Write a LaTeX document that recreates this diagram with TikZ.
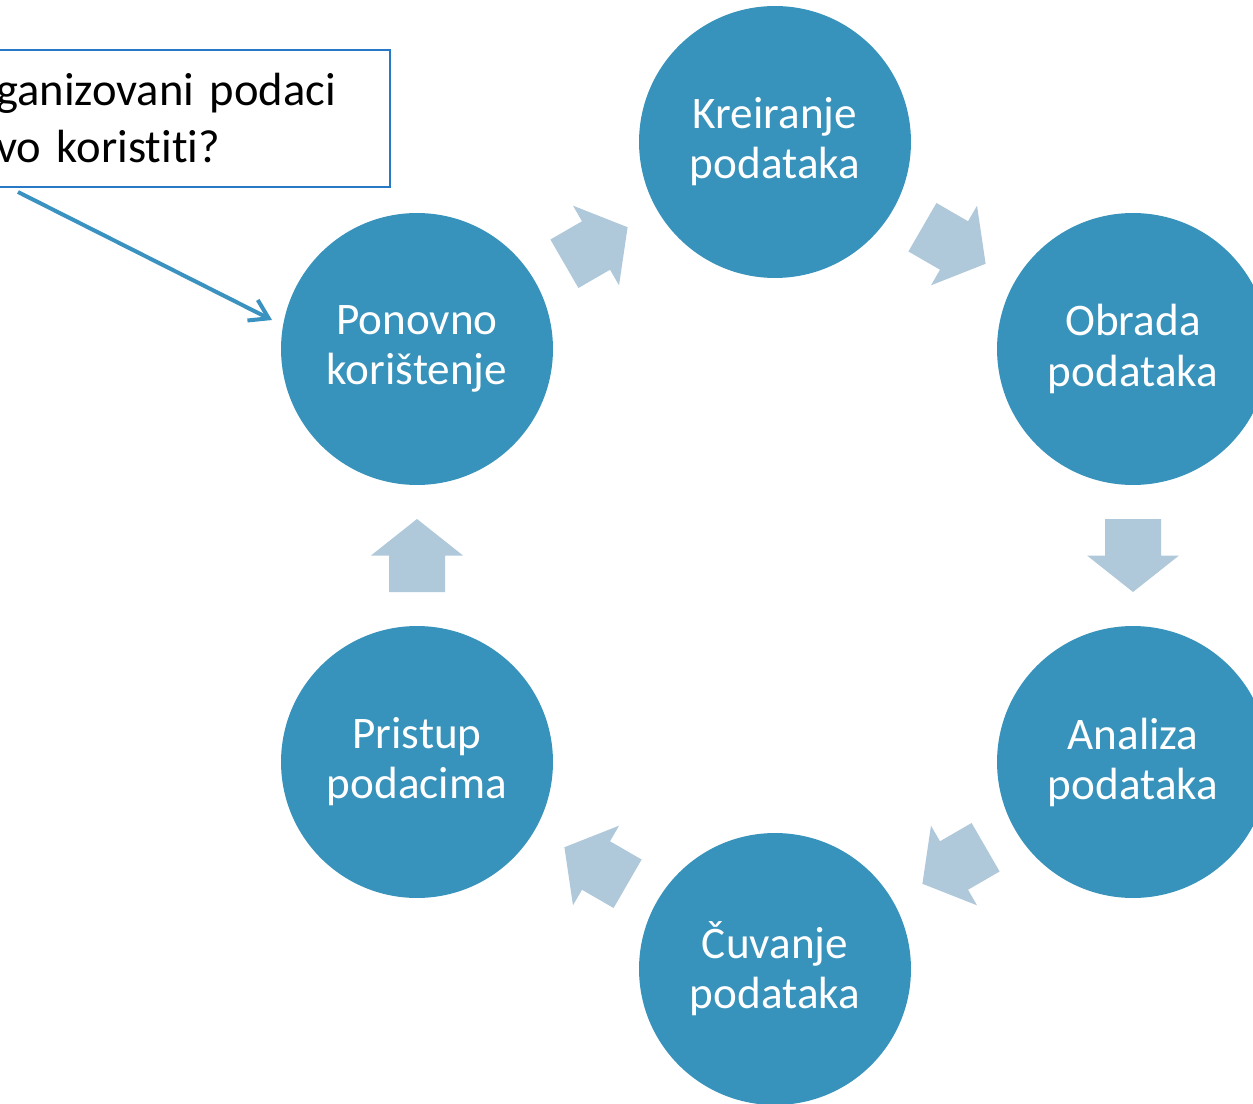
\documentclass[tikz,border=0pt]{standalone}
\usepackage{fontspec}
\setmainfont{Carlito}[RawFeature={-liga;-clig;-calt}]
\usepackage{tikz}
\usepackage{xcolor}
\usetikzlibrary{shapes.geometric, arrows.meta}
\definecolor{krugplava}{RGB}{55,147,187}
\definecolor{strelicasiva}{RGB}{175,200,218}
\definecolor{okvirplava}{RGB}{40,120,200}
\definecolor{linijaplava}{RGB}{58,146,192}
\tikzstyle{krug} = [circle, minimum size=5.44cm, inner sep=0pt, draw=none, fill=krugplava, text=white, align=center, font=\fontsize{25.7}{28.5}\selectfont]
\tikzstyle{strelica} = [midway, sloped, allow upside down]
\tikzstyle{pitanjebox} = [rectangle, draw=okvirplava, line width=0.9pt, fill=white, minimum width=8.2cm, minimum height=2.74cm, inner xsep=0.32cm, text width=7.56cm, align=left, font=\fontsize{26.5}{32.3}\selectfont]
\tikzstyle{pokazivac} = [draw=linijaplava, line width=0.08cm, -{Straight Barb[length=0.36cm, width=0.46cm]}]
\tikzset{blokstrelica/.pic={\fill[strelicasiva] (-36.5,-28) -- (0,-28) -- (0,-46) -- (36.5,0) -- (0,46) -- (0,28) -- (-36.5,28) -- cycle;}}

\begin{document}
\begin{tikzpicture}[x=0.02cm, y=-0.02cm]
        \useasboundingbox (0,0) rectangle (1253,1104);
        \clip (0,0) rectangle (1253,1104);

        \node (kreiranje) [krug] at (775,142) {Kreiranje\\podataka};
        \node (obrada) [krug] at (1133,349) {Obrada\\podataka};
        \node (analiza) [krug] at (1133,762) {Analiza\\podataka};
        \node (cuvanje) [krug] at (775,969) {Čuvanje\\podataka};
        \node (pristup) [krug] at (417,762) {Pristup\\podacima};
        \node (ponovno) [krug] at (417,349) {Ponovno\\korištenje};

        \node (pitanje) [pitanjebox, anchor=north east] at (391,49) {ganizovani podaci\\vo koristiti?};

        \coordinate (izvor) at (18,192);
        \coordinate (cilj) at (272,320);

        \path (ponovno) -- pic[strelica] {blokstrelica} (kreiranje);
        \path (kreiranje) -- pic[strelica] {blokstrelica} (obrada);
        \path (obrada) -- pic[strelica] {blokstrelica} (analiza);
        \path (analiza) -- pic[strelica] {blokstrelica} (cuvanje);
        \path (cuvanje) -- pic[strelica] {blokstrelica} (pristup);
        \path (pristup) -- pic[strelica] {blokstrelica} (ponovno);

        \draw [pokazivac] (izvor) -- (cilj);

    \end{tikzpicture}
\end{document}
